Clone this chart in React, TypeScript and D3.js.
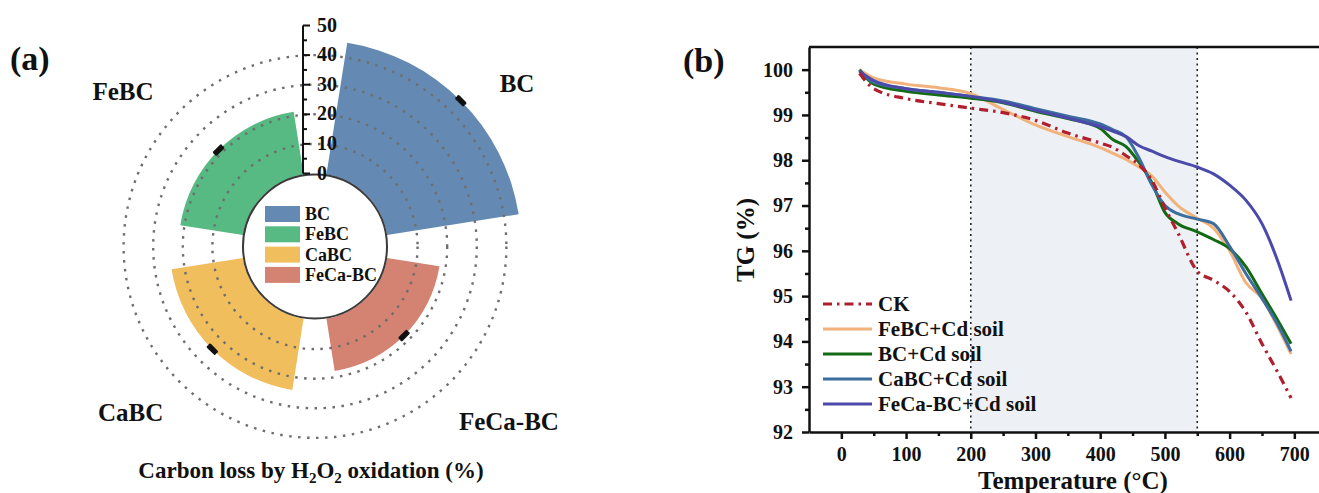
import { useEffect, useRef } from "react";
import * as d3 from "d3";

// (a) polar bar chart
const categories = ["BC", "FeBC", "CaBC", "FeCa-BC"];
const carbonLoss = [45.0, 21.4, 24.4, 17.9];
const carbonErr = [0.4, 0.4, 0.4, 0.4];
const barColors = ["#6489b2", "#56ba82", "#f0be5c", "#d48271"];
const radialTicks = [0, 10, 20, 30, 40, 50];
const gridValues = [10, 20, 30, 40];

// (b) TG curves
const temps = [28, 50, 100, 150, 200, 250, 300, 350, 400, 420, 440, 460, 480, 500, 520, 550, 575, 600, 625, 650, 675, 695];
const tgCK = [99.92, 99.58, 99.36, 99.25, 99.15, 99.05, 98.88, 98.6, 98.38, 98.28, 98.1, 97.9, 97.55, 96.95, 96.4, 95.55, 95.35, 95.1, 94.65, 93.95, 93.3, 92.75];
const tgFeBC = [100.0, 99.82, 99.68, 99.6, 99.47, 99.12, 98.78, 98.52, 98.28, 98.15, 98.02, 97.85, 97.65, 97.3, 97.0, 96.72, 96.5, 96.0, 95.3, 94.95, 94.3, 93.72];
const tgBC = [100.0, 99.68, 99.52, 99.44, 99.37, 99.27, 99.08, 98.92, 98.7, 98.45, 98.3, 97.95, 97.5, 96.85, 96.6, 96.42, 96.25, 96.05, 95.65, 95.05, 94.45, 93.95];
const tgCaBC = [99.98, 99.72, 99.58, 99.5, 99.41, 99.31, 99.14, 98.97, 98.8, 98.67, 98.52, 98.05, 97.45, 97.0, 96.82, 96.7, 96.6, 96.1, 95.5, 94.95, 94.35, 93.78];
const tgFeCaBC = [99.96, 99.76, 99.58, 99.5, 99.41, 99.28, 99.1, 98.93, 98.74, 98.64, 98.52, 98.32, 98.2, 98.08, 97.98, 97.85, 97.7, 97.45, 97.12, 96.6, 95.75, 94.9];
const seriesNames = ["CK", "FeBC+Cd soil", "BC+Cd soil", "CaBC+Cd soil", "FeCa-BC+Cd soil"];
const seriesColors = ["#b01f2e", "#f2b27c", "#146a14", "#3b6d9e", "#4b49aa"];
const xTicks = [0, 100, 200, 300, 400, 500, 600, 700];
const yTicks = [92, 93, 94, 95, 96, 97, 98, 99, 100];
const regionBounds = [200, 550];

const FONT = "'Liberation Serif', 'Times New Roman', serif";

const App = () => {
  const ref = useRef(null);

  useEffect(() => {
    const svg = d3.select(ref.current);
    svg.selectAll("*").remove();
    svg.attr("font-family", FONT).attr("font-weight", "bold");

    // ---------- (a) ----------
    const cx = 315;
    const cy = 246.5;
    const rScale = d3.scaleLinear().domain([0, 50]).range([73, 221]);
    const rad = (deg) => (deg * Math.PI) / 180;
    const centerAngle = (i) => 45 - i * 90;
    const g = svg.append("g").attr("transform", `translate(${cx},${cy})`);

    const arc = d3.arc();
    categories.forEach((c, i) => {
      const a = centerAngle(i);
      g.append("path")
        .attr(
          "d",
          arc({
            innerRadius: rScale(0),
            outerRadius: rScale(carbonLoss[i]),
            startAngle: rad(a - 36),
            endAngle: rad(a + 36),
          })
        )
        .attr("fill", barColors[i]);
    });

    gridValues.forEach((v) => {
      g.append("circle")
        .attr("r", rScale(v))
        .attr("fill", "none")
        .attr("stroke", "#6e6e6e")
        .attr("stroke-width", 2.4)
        .attr("stroke-dasharray", "2.5,6.5");
    });

    // error bars
    categories.forEach((c, i) => {
      const a = rad(centerAngle(i));
      const ux = Math.sin(a);
      const uy = -Math.cos(a);
      const tx = Math.cos(a);
      const ty = Math.sin(a);
      [carbonLoss[i] - carbonErr[i], carbonLoss[i] + carbonErr[i]].forEach((v) => {
        const r = rScale(v);
        g.append("line")
          .attr("x1", ux * r - tx * 4.5)
          .attr("y1", uy * r - ty * 4.5)
          .attr("x2", ux * r + tx * 4.5)
          .attr("y2", uy * r + ty * 4.5)
          .attr("stroke", "#111")
          .attr("stroke-width", 3.2)
          .attr("stroke-linecap", "round");
      });
    });

    // inner circle
    g.append("circle")
      .attr("r", rScale(0) - 1)
      .attr("fill", "#fff")
      .attr("stroke", "#3a3a3a")
      .attr("stroke-width", 2);

    // legend inside circle
    categories.forEach((c, i) => {
      const y = -40.5 + i * 20.3;
      g.append("rect")
        .attr("x", -50)
        .attr("y", y)
        .attr("width", 35)
        .attr("height", 16)
        .attr("fill", barColors[i]);
      g.append("text")
        .attr("x", -10)
        .attr("y", y + 14)
        .attr("font-size", 18)
        .attr("fill", "#111")
        .text(c);
    });

    // radial axis
    const ax = -12;
    g.append("line")
      .attr("x1", ax)
      .attr("x2", ax)
      .attr("y1", -rScale(0))
      .attr("y2", -rScale(50))
      .attr("stroke", "#111")
      .attr("stroke-width", 2);
    d3.range(0, 51, 5).forEach((v) => {
      const major = v % 10 === 0;
      g.append("line")
        .attr("x1", ax)
        .attr("x2", ax + (major ? 7 : 4))
        .attr("y1", -rScale(v))
        .attr("y2", -rScale(v))
        .attr("stroke", "#111")
        .attr("stroke-width", 2);
    });
    radialTicks.forEach((v) => {
      g.append("text")
        .attr("x", 2)
        .attr("y", -rScale(v) + 6)
        .attr("font-size", 20)
        .attr("fill", "#111")
        .text(v);
    });

    // category labels
    const labelAngles = [51, -51, -132, 132];
    const labelRadius = [260, 247, 248, 261];
    categories.forEach((c, i) => {
      const a = rad(labelAngles[i]);
      g.append("text")
        .attr("x", Math.sin(a) * labelRadius[i])
        .attr("y", -Math.cos(a) * labelRadius[i] + 9)
        .attr("text-anchor", "middle")
        .attr("font-size", 25)
        .attr("fill", "#111")
        .text(c);
    });

    const title = svg
      .append("text")
      .attr("x", 311)
      .attr("y", 478)
      .attr("text-anchor", "middle")
      .attr("font-size", 23)
      .attr("fill", "#111");
    title.append("tspan").text("Carbon loss by H");
    title.append("tspan").attr("font-size", 15).attr("dy", 5).text("2");
    title.append("tspan").attr("dy", -5).text("O");
    title.append("tspan").attr("font-size", 15).attr("dy", 5).text("2");
    title.append("tspan").attr("dy", -5).text(" oxidation (%)");

    svg.append("text").attr("x", 10).attr("y", 70).attr("font-size", 34).attr("fill", "#111").text("(a)");

    // ---------- (b) ----------
    const left = 809;
    const top = 47;
    const bottom = 432;
    const x = d3.scaleLinear().domain([-50, 750]).range([left, left + 800 * 0.6471]);
    const y = d3.scaleLinear().domain([92, 100.5]).range([bottom, top]);

    svg.append("rect")
      .attr("x", x(regionBounds[0]))
      .attr("y", top)
      .attr("width", x(regionBounds[1]) - x(regionBounds[0]))
      .attr("height", bottom - top)
      .attr("fill", "#edf0f5");
    regionBounds.forEach((v) => {
      svg.append("line")
        .attr("x1", x(v))
        .attr("x2", x(v))
        .attr("y1", top)
        .attr("y2", bottom)
        .attr("stroke", "#222")
        .attr("stroke-width", 1.6)
        .attr("stroke-dasharray", "2,3.5");
    });

    const allSeries = [tgCK, tgFeBC, tgBC, tgCaBC, tgFeCaBC];
    const line = d3
      .line()
      .x((d) => x(d[0]))
      .y((d) => y(d[1]))
      .curve(d3.curveMonotoneX);
    const drawOrder = [1, 2, 3, 4, 0];
    drawOrder.forEach((k) => {
      const p = svg
        .append("path")
        .attr("d", line(temps.map((t, j) => [t, allSeries[k][j]])))
        .attr("fill", "none")
        .attr("stroke", seriesColors[k])
        .attr("stroke-width", 3)
        .attr("stroke-linejoin", "round");
      if (k === 0) p.attr("stroke-dasharray", "9,5,2.5,5").attr("stroke-width", 3.2);
    });

    // axes
    const xAxis = svg
      .append("g")
      .attr("transform", `translate(0,${bottom})`)
      .call(d3.axisBottom(x).tickValues(xTicks).tickSize(7).tickPadding(8).tickSizeOuter(0));
    svg.append("g")
      .attr("transform", `translate(0,${bottom})`)
      .call(d3.axisBottom(x).tickValues(d3.range(50, 751, 100)).tickSize(4).tickFormat(() => "").tickSizeOuter(0))
      .call((s) => s.select(".domain").remove());
    const yAxis = svg
      .append("g")
      .attr("transform", `translate(${left},0)`)
      .call(d3.axisLeft(y).tickValues(yTicks).tickSize(7).tickPadding(9).tickSizeOuter(0));
    svg.append("g")
      .attr("transform", `translate(${left},0)`)
      .call(d3.axisLeft(y).tickValues(d3.range(92.5, 100.1, 1)).tickSize(4).tickFormat(() => "").tickSizeOuter(0))
      .call((s) => s.select(".domain").remove());
    [xAxis, yAxis].forEach((a) => {
      a.selectAll("text").attr("font-family", FONT).attr("font-weight", "bold").attr("font-size", 20).attr("fill", "#111");
    });
    svg.selectAll(".domain, .tick line").attr("stroke", "#111").attr("stroke-width", 2.5);
    svg.append("line")
      .attr("x1", left)
      .attr("x2", 1319)
      .attr("y1", top)
      .attr("y2", top)
      .attr("stroke", "#111")
      .attr("stroke-width", 2.5);

    svg.append("text")
      .attr("x", 1073)
      .attr("y", 489)
      .attr("text-anchor", "middle")
      .attr("font-size", 25)
      .attr("fill", "#111")
      .text("Temperature (\u00b0C)");
    svg.append("text")
      .attr("transform", `translate(754,240) rotate(-90)`)
      .attr("text-anchor", "middle")
      .attr("font-size", 25)
      .attr("fill", "#111")
      .text("TG (%)");
    svg.append("text").attr("x", 683).attr("y", 72).attr("font-size", 34).attr("fill", "#111").text("(b)");

    // legend (b)
    seriesNames.forEach((n, k) => {
      const ly = 304 + k * 25;
      const l = svg
        .append("line")
        .attr("x1", 823)
        .attr("x2", 872)
        .attr("y1", ly)
        .attr("y2", ly)
        .attr("stroke", seriesColors[k])
        .attr("stroke-width", 3);
      if (k === 0) l.attr("stroke-dasharray", "9,5,2.5,5");
      svg.append("text")
        .attr("x", 878)
        .attr("y", ly + 7)
        .attr("font-size", 21)
        .attr("fill", "#111")
        .text(n);
    });
  }, []);

  return (
    <div style={{ position: "fixed", left: 0, top: 0 }}>
      <svg ref={ref} width={1319} height={493} style={{ display: "block", background: "#fff" }} />
    </div>
  );
};

export default App;
